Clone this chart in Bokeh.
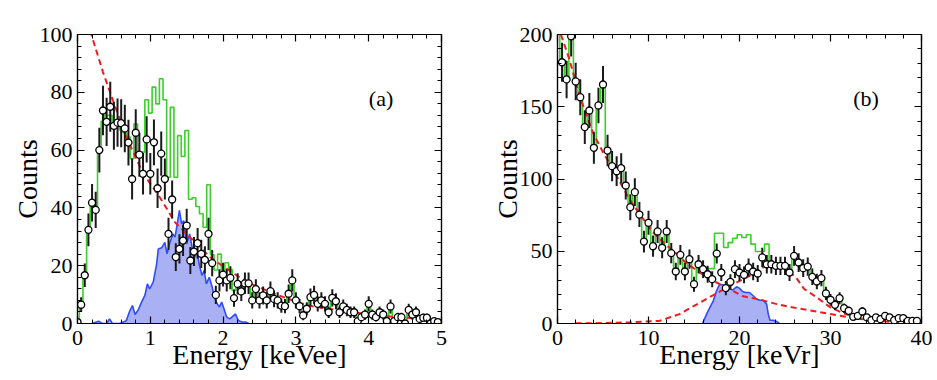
import numpy as np
from bokeh.plotting import figure
from bokeh.layouts import row
from bokeh.models import ColumnDataSource, FixedTicker, LinearAxis, Range1d, Label
from bokeh.embed import file_html
from bokeh.resources import INLINE

FONT = "Liberation Serif"
GREEN = "#3ccf2a"
RED = "#ee1c1c"
BLUE_LINE = "#2f4cff"
BLUE_FILL = "#aab0f4"

# ---------------- Panel (a): Energy [keVee] ----------------
a_bin_centers = np.arange(0.0, 5.0, 0.05)
a_counts = [0.5, 6.5, 16.7, 32.4, 41.8, 39.3, 60, 73.7, 69.8, 75,
            68.4, 69.5, 69.3, 67.5, 62.6, 50, 66, 58.4, 51.8, 63.7,
            51.8, 62.7, 46.8, 58.8, 50, 31, 42.9, 23, 25.8, 28.7,
            33.9, 21.8, 24.9, 27.8, 24.1, 22, 31, 20.9, 9.9, 14.9,
            16.9, 14.9, 15.8, 8.8, 13.7, 11.1, 13.9, 13.9, 8, 11.9,
            8, 9.7, 8, 11.2, 8.5, 8, 6.2, 6, 10.3, 14.9,
            8, 6, 2.8, 5.1, 9.1, 9.9, 6.8, 8, 6.8, 3.9,
            8.9, 7.7, 3.9, 5.9, 4.7, 3.9, 3.9, 0.8, 2.2, 3.1,
            6.8, 3.1, 2.2, 3.9, 3.1, 0.8, 5.9, 0.8, 2.2, 2.2,
            0, 4.7, 3.1, 3.9, 1.6, 2, 2, 0, 0.8, 0.5]
a_green_low = [0.5, 6.5, 17, 32, 41, 40, 60, 70, 72, 72,
               68, 70, 67, 66, 64.5, 57, 69, 59.3, 59.3, 77.4,
               72.8, 81.8, 76, 84.7, 77.4, 50.6, 74.8, 50.6, 65, 57.8,
               66.8, 43, 43.5, 40.5, 38, 33.3, 48, 23.8, 18.5, 24,
               18.3, 21, 18.7, 11.4]
a_green = a_green_low + a_counts[len(a_green_low):]
a_sig_E = [0.2, 0.26, 0.29, 0.34, 0.4, 0.44, 0.48, 0.58, 0.63, 0.67,
           0.72, 0.755, 0.79, 0.83, 0.88, 0.925, 0.96, 0.99, 1.04, 1.087,
           1.11, 1.156, 1.2, 1.23, 1.27, 1.31, 1.34, 1.37, 1.4, 1.43,
           1.46, 1.5, 1.54, 1.57, 1.6, 1.64, 1.675, 1.71, 1.74, 1.77,
           1.81, 1.85, 1.88, 1.92, 1.95, 1.98, 2.02, 2.05, 2.09, 2.12,
           2.17, 2.21, 2.26, 2.31, 2.35]
a_sig = [0, 0.5, 0.8, 0, 0, 1.6, 0, 0, 0.5, 1,
         4.5, 6.2, 3.1, 4.5, 7.4, 9.7, 13.7, 12, 14.3, 20.6,
         25.8, 26.2, 28.1, 24.1, 28.1, 31, 29.9, 34.5, 39.1, 34.5,
         35.6, 27.6, 31, 27, 22.4, 25.3, 20.1, 16.6, 18.3, 13.7,
         16, 12.6, 9.1, 6.8, 5.7, 7.4, 4.5, 2.2, 1.6, 2.2,
         3.3, 1, 0.5, 0.5, 0]
a_bg_E = [0.1, 0.19, 0.35, 0.49, 0.67, 0.9, 1.13, 1.34, 1.59, 1.82,
          2.05, 2.33, 2.7, 3.16, 3.62, 4.08, 4.54, 5.0]
a_bg = [108, 100, 87, 77, 64.5, 52, 43.7, 35, 28.7, 23,
        18.9, 14.3, 10.3, 6.2, 4.5, 2.8, 2, 1]

# ---------------- Panel (b): Energy [keVr] ----------------
b_bin_centers = np.arange(0.5, 40.0, 0.5)
b_counts = [180.8, 168.9, 198.8, 167.5, 156.6, 135.9, 147.4, 121.6, 150.9, 165.4,
            119.7, 108.9, 105.4, 107.5, 95.5, 80.5, 90.9, 75.4, 56.7, 69.7,
            53.5, 63.7, 52.4, 63.7, 48.7, 36, 47.5, 36, 44.5, 27.2,
            41, 37.6, 34.1, 30.7, 48.4, 35.3, 24.5, 28.8, 37.6, 35.3,
            33.7, 38.8, 36, 34.6, 45.7, 41, 41, 39.9, 39.9, 39.9,
            35.3, 46.8, 42.2, 38.3, 39.4, 32.3, 29.1, 31.4, 20.8, 16.4,
            12.9, 17.5, 10.6, 8.8, 4.6, 5.3, 8.3, 4.2, 2.3, 4.2,
            3, 5.3, 4.2, 2.3, 3.7, 3.7, 1.8, 1.8, 1.8]
b_green_first = 215          # first bin (E = 0), off the top of the scale
b_green_mid_E = [16.5, 17.0, 17.5, 18.0, 18.5, 19.0, 19.5, 20.0, 20.5, 21.0, 21.5, 22.0, 22.5, 23.0]
b_green_mid = [38, 38, 62.5, 62.5, 52.6, 56, 59, 61.4, 59.5, 61.4, 54.9, 49.8, 49.8, 54.9]
b_green = list(b_counts)
for e, v in zip(b_green_mid_E, b_green_mid):
    b_green[int(round(e / 0.5)) - 1] = v
b_green = [b_green_first] + b_green
b_green_centers = np.arange(0.0, 40.0, 0.5)
b_sig_E = [15.94, 16.38, 16.75, 17.12, 17.48, 17.78, 18.22, 18.51, 18.88, 19.24,
           19.68, 19.98, 20.34, 20.7, 21.07, 21.51, 21.88, 22.25, 22.61, 22.98,
           23.16, 23.35, 23.71, 24.08, 24.37]
b_sig = [0, 6.5, 11.1, 15.7, 22.6, 26.8, 26.8, 24.5, 24.5, 23.1,
         25.4, 24.5, 22.1, 21.5, 21.5, 19.2, 16.8, 16.1, 16.1, 13.4,
         6.5, 2.3, 2.3, 1.4, 0]
b_bg_E = [0.37, 1.3, 2.4, 3.9, 5.0, 6.5, 7.9, 9.0, 10.5, 12.0, 12.7, 13.3,
          14.1, 15.6, 17.1, 18.6, 20.3, 22.2, 24.1, 26.3, 27.8, 30.3, 32.9, 36.6, 39.9]
b_bg = [200, 183, 158, 132, 118.5, 102, 86, 76, 63, 54, 50.5, 47,
        42.2, 35.3, 29.5, 25, 19, 16.6, 13.4, 10.6, 9, 6.2, 3.2, 2.1, 1.6]
b_nr_E = [2, 5, 8, 11.2, 13.4, 16.0, 18.5, 21.1, 22.2, 23.3, 24.4, 25.5,
          26.3, 27.1, 28.5, 30.0, 31.5, 33.0, 35.0, 37.0, 40.0]
b_nr = [0.1, 0.3, 0.8, 1.8, 6.5, 15.7, 24.5, 33, 37.6, 41, 41, 36,
        31, 24, 18, 11.1, 6.9, 4, 2, 1, 0.5]

H = 376
TOP = 34
BOTTOM = H - TOP - 289


def style_axis(ax, labels=True):
    ax.major_tick_in = 7
    ax.major_tick_out = 0
    ax.minor_tick_in = 4
    ax.minor_tick_out = 0
    ax.axis_line_color = "black"
    ax.axis_line_width = 1.2
    ax.major_tick_line_color = "black"
    ax.minor_tick_line_color = "black"
    ax.major_tick_line_width = 1.2
    ax.minor_tick_line_width = 1.0
    if labels:
        ax.major_label_text_font = FONT
        ax.major_label_text_font_size = "22px"
        ax.major_label_text_color = "black"
        ax.axis_label_text_font = FONT
        ax.axis_label_text_font_size = "28px"
        ax.axis_label_text_font_style = "normal"
        ax.axis_label_text_color = "black"
    else:
        ax.major_label_text_font_size = "0px"
        ax.major_label_text_color = None
        ax.major_label_standoff = 0
        ax.axis_label = None


def make_panel(width, bl, br, xr, yr, xt, xm, yt, ym, xlabel, tag, tag_xy):
    p = figure(width=width, height=H, x_range=Range1d(*xr), y_range=Range1d(*yr),
               output_backend="svg", toolbar_location=None,
               min_border_left=bl, min_border_right=br, min_border_top=TOP, min_border_bottom=BOTTOM,
               x_axis_label=xlabel, y_axis_label="Counts")
    p.xgrid.visible = False
    p.ygrid.visible = False
    p.outline_line_color = "black"
    p.outline_line_width = 1.2
    p.background_fill_color = "white"
    p.border_fill_color = "white"
    p.xaxis.ticker = FixedTicker(ticks=xt, minor_ticks=xm)
    p.yaxis.ticker = FixedTicker(ticks=yt, minor_ticks=ym)
    for ax in p.xaxis:
        style_axis(ax)
        ax.major_label_standoff = 7
        ax.axis_label_standoff = -9
    for ax in p.yaxis:
        style_axis(ax)
        ax.major_label_standoff = 5
        ax.axis_label_standoff = -6
    top = LinearAxis(ticker=FixedTicker(ticks=xt, minor_ticks=xm))
    style_axis(top, labels=False)
    p.add_layout(top, "above")
    right = LinearAxis(ticker=FixedTicker(ticks=yt, minor_ticks=ym))
    style_axis(right, labels=False)
    p.add_layout(right, "right")
    p.add_layout(Label(x=tag_xy[0], y=tag_xy[1], text=tag, text_font=FONT,
                       text_font_size="22px", text_align="center", text_baseline="middle",
                       text_color="black"))
    return p


def draw(p, centers, counts, gcenters, green, sigE, sig, curves):
    p.varea(x=sigE, y1=[0] * len(sig), y2=sig, fill_color=BLUE_FILL, fill_alpha=1.0)
    p.line(sigE, sig, line_color=BLUE_LINE, line_width=1.6)
    p.step(list(gcenters), green, mode="center", line_color=GREEN, line_width=1.6)
    for cx, cy in curves:
        p.line(cx, cy, line_color=RED, line_width=2, line_dash="6 4")
    c = np.array(counts, dtype=float)
    err = np.sqrt(c)
    src = ColumnDataSource(dict(x=list(centers), y=list(c), lo=list(c - err), hi=list(c + err)))
    p.segment(x0="x", y0="lo", x1="x", y1="hi", source=src, line_color="#1a1a1a", line_width=2)
    p.scatter(x="x", y="y", source=src, size=7, fill_color="white", line_color="black", line_width=1.3)


p1 = make_panel(471, 77, 30, (0, 5), (0, 100),
                [0, 1, 2, 3, 4, 5], [round(0.2 * i, 2) for i in range(26)],
                [0, 20, 40, 60, 80, 100], list(range(0, 101, 4)),
                "Energy [keVee]", "(a)", (4.17, 78))
draw(p1, a_bin_centers, a_counts, a_bin_centers, a_green, a_sig_E, a_sig, [(a_bg_E, a_bg)])

p2 = make_panel(464, 86, 14, (0, 40), (0, 200),
                [0, 10, 20, 30, 40], list(range(0, 41, 2)),
                [0, 50, 100, 150, 200], list(range(0, 201, 10)),
                "Energy [keVr]", "(b)", (33.9, 156))
draw(p2, b_bin_centers, b_counts, b_green_centers, b_green, b_sig_E, b_sig,
     [(b_bg_E, b_bg), (b_nr_E, b_nr)])

layout = row(p1, p2)
open("out.html", "w").write(file_html(layout, INLINE))
